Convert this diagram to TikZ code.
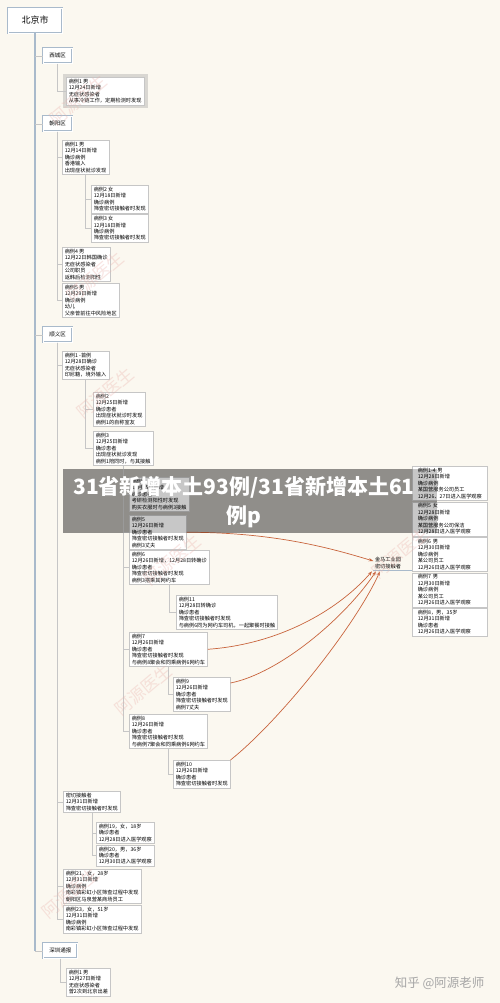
\documentclass[tikz,border=0pt]{standalone}
\usepackage{fontspec}
\setmainfont{Noto Sans CJK SC}
\usetikzlibrary{arrows.meta,positioning}
\definecolor{paper}{HTML}{FBF8F0}
\definecolor{edge}{HTML}{C6C6C6}
\definecolor{trunkblue}{HTML}{A9BACB}
\definecolor{rel}{HTML}{C8643C}
\definecolor{mark}{HTML}{EBB4AE}
\definecolor{halo}{HTML}{D9D7D2}
\definecolor{band}{HTML}{B9B7B2}
\newcommand{\leaffont}{\fontsize{5.2}{6.4}\selectfont}

\begin{document}
\begin{tikzpicture}[x=1pt,y=-1pt,>=Stealth,
  leaf/.style={draw=edge,fill=white,line width=0.5pt,anchor=north west,align=left,font=\leaffont,inner xsep=2.5pt,inner ysep=1.8pt},
  rleaf/.style={leaf,text width=64pt,inner xsep=5.5pt},
  area/.style={draw=trunkblue,fill=white,line width=0.6pt,double=white,double distance=0.5pt,anchor=north west,font=\fontsize{5.5}{6.5}\selectfont,inner xsep=6pt,minimum height=15pt},
  branch/.style={draw=edge,line width=0.5pt},
  hit/.style={draw=rel,line width=0.7pt,-{Stealth[length=4.5pt,width=3.2pt]}},
  headline/.style={text=white,font=\fontsize{21}{21}\selectfont\bfseries,inner sep=0pt},
  stamp/.style={text=mark,font=\fontsize{17}{17}\selectfont,rotate=40,opacity=0.35}]
\fill[paper] (0,0) rectangle (500,1003);
\fill[band] (63,469) rectangle (437,533);

% root and districts
\node[draw=trunkblue,fill=white,line width=0.8pt,double=white,double distance=0.8pt,minimum width=54pt,minimum height=25pt,font=\fontsize{9}{9}\selectfont] (bj) at (35,20.5) {北京市};
\node[area] (xc) at (43,48) {西城区};
\node[area] (cy) at (43,116) {朝阳区};
\node[area] (sy) at (43,327) {顺义区};
\node[area] (sz) at (43,943) {深圳通报};
\draw[trunkblue,line width=2pt] (bj.south) -- (bj.south |- sz.west);
\foreach \d in {xc,cy,sy,sz} \draw[branch] (bj.south |- \d.west) -- (\d.west);

% xicheng
\node[leaf,preaction={draw=halo,line width=7pt,rounded corners=3pt}] (xc1) at (66,77) {病例1 男\\12月24日新增\\无症状感染者\\从事冷链工作，定期检测时发现};
\draw[branch] (xc.south) |- (xc1.west);

% chaoyang
\node[leaf] (cy1) at (62,140) {病例1 男\\12月14日新增\\确诊病例\\香港输入\\出现症状就诊发现};
\node[leaf] (cy2) at (91,185) {病例2 女\\12月18日新增\\确诊病例\\筛查密切接触者时发现};
\node[leaf,below=1pt of cy2.south west,anchor=north west] (cy3) {病例3 女\\12月18日新增\\确诊病例\\筛查密切接触者时发现};
\node[leaf] (cy4) at (62,247) {病例4 男\\12月22日韩国确诊\\无症状感染者\\公司职员\\返韩后检测阳性};
\node[leaf,below=1.5pt of cy4.south west,anchor=north west] (cy5) {病例5 男\\12月29日新增\\确诊病例\\幼儿\\父亲曾前往中风险地区};
\foreach \c in {cy1,cy4,cy5} \draw[branch] (cy.south) |- (\c.west);
\foreach \c in {cy2,cy3} \draw[branch] (cy1.south) |- (\c.west);

% shunyi
\node[leaf] (sy1) at (62,351) {病例1 -首例\\12月28日确诊\\无症状感染者\\印尼籍，境外输入};
\node[leaf] (sy2) at (93,392) {病例2\\12月25日新增\\确诊患者\\出现症状就诊时发现\\病例1的自称室友};
\node[leaf] (sy3) at (93,431) {病例3\\12月25日新增\\确诊患者\\出现症状就诊发现\\病例1陪同时，与其接触};
\node[leaf] (sy4) at (129,477) {病例4\\12月25日新增\\确诊患者\\考研检测阳性时发现\\购买衣服时与病例3接触};
\node[leaf] (sy5) at (129,515) {病例5\\12月26日新增\\确诊患者\\筛查密切接触者时发现\\病例3丈夫};
\node[leaf] (sy6) at (129,550) {病例6\\12月26日新增，12月28日转确诊\\确诊患者\\筛查密切接触者时发现\\病例3搭乘其网约车};
\node[leaf] (sy11) at (176,595) {病例11\\12月28日转确诊\\确诊患者\\筛查密切接触者时发现\\与病例6同为网约车司机，一起聚餐时接触};
\node[leaf] (sy7) at (129,632) {病例7\\12月26日新增\\确诊患者\\筛查密切接触者时发现\\与病例8聚会和同乘病例6网约车};
\node[leaf] (sy9) at (173,677) {病例9\\12月26日新增\\确诊患者\\筛查密切接触者时发现\\病例7丈夫};
\node[leaf] (sy8) at (129,714) {病例8\\12月26日新增\\确诊患者\\筛查密切接触者时发现\\与病例7聚会和同乘病例6网约车};
\node[leaf] (sy10) at (173,760) {病例10\\12月26日新增\\确诊患者\\筛查密切接触者时发现};
\node[leaf] (sym) at (63,791) {密切接触者\\12月31日新增\\筛查密切接触者时发现};
\node[leaf] (sy19) at (96,822) {病例19，女，18岁\\确诊患者\\12月28日进入医学观察};
\node[leaf,below=1pt of sy19.south west,anchor=north west] (sy20) {病例20，男，36岁\\确诊患者\\12月30日进入医学观察};
\node[leaf] (sy21) at (63,869) {病例21，女，28岁\\12月31日新增\\确诊病例\\南彩镇彩虹小区筛查过程中发现\\朝阳区马泉营某商场员工};
\node[leaf,below=1.5pt of sy21.south west,anchor=north west] (sy23) {病例23，女，51岁\\12月31日新增\\确诊病例\\南彩镇彩虹小区筛查过程中发现};
\foreach \c in {sy1,sym,sy21,sy23} \draw[branch] (sy.south) |- (\c.west);
\foreach \c in {sy2,sy3} \draw[branch] (sy1.south) |- (\c.west);
\foreach \c in {sy4,sy5,sy6,sy7,sy8} \draw[branch] (sy3.south) |- (\c.west);
\foreach \p/\c in {sy6/sy11,sy7/sy9,sy8/sy10,sym/sy19,sym/sy20} \draw[branch] (\p.south) |- (\c.west);

% shenzhen
\node[leaf] (sz1) at (66,968) {病例1 男\\12月27日新增\\无症状感染者\\曾2次到北京出差};
\draw[branch] (sz.south) |- (sz1.west);

% jinma industrial park
\node[align=left,font=\leaffont,inner sep=1.5pt] (jm) at (388,563) {金马工业园\\密切接触者};
\node[rleaf] (r1) at (412,466) {病例1-4 男\\12月28日新增\\确诊病例\\某国营服务公司员工\\12月26、27日进入医学观察};
\node[rleaf,below=1pt of r1.south west,anchor=north west] (r5) {病例5 女\\12月28日新增\\确诊病例\\某国营服务公司保洁\\12月28日进入医学观察};
\node[rleaf,below=1pt of r5.south west,anchor=north west] (r6) {病例6 男\\12月30日新增\\确诊病例\\某公司员工\\12月26日进入医学观察};
\node[rleaf,below=1pt of r6.south west,anchor=north west] (r7) {病例7 男\\12月30日新增\\确诊病例\\某公司员工\\12月26日进入医学观察};
\node[rleaf,below=1pt of r7.south west,anchor=north west] (r8) {病例8，男，35岁\\12月31日新增\\确诊患者\\12月26日进入医学观察};
\draw[trunkblue,line width=0.6pt] (jm.south west) -- (jm.south west -| r6.west);

% relations
\draw[hit] (sy5.east) .. controls +(90,0) and +(-40,-12) .. ([yshift=2pt]jm.west);
\draw[hit] (sy7.east) .. controls +(70,-5) and +(-35,40) .. ([xshift=-16pt,yshift=-1pt]jm.south);
\draw[hit] ([yshift=-6pt]sy9.north east) .. controls +(50,-10) and +(-30,45) .. ([xshift=-12pt,yshift=-1pt]jm.south);
\draw[hit] (sy10.north east) .. controls +(50,-40) and +(-25,55) .. ([xshift=-8pt,yshift=-1pt]jm.south);

% banner
\fill[black,opacity=0.22] (63,469) rectangle (437,533);
\node[headline] (t1) at (244,487) {31省新增本土93例/31省新增本土61};
\node[headline] (t2) at (244,517) {例p};

% watermarks
\foreach \x/\y in {78/100,95/277,105/393,172/560,143/690,70/893,400/553}
  \node[stamp] at (\x,\y) {阿源医生};
\node[anchor=east,text=black!35,font=\fontsize{12.5}{12.5}\selectfont] (zh) at (488,983) {知乎 @阿源老师};
\end{tikzpicture}
\end{document}
